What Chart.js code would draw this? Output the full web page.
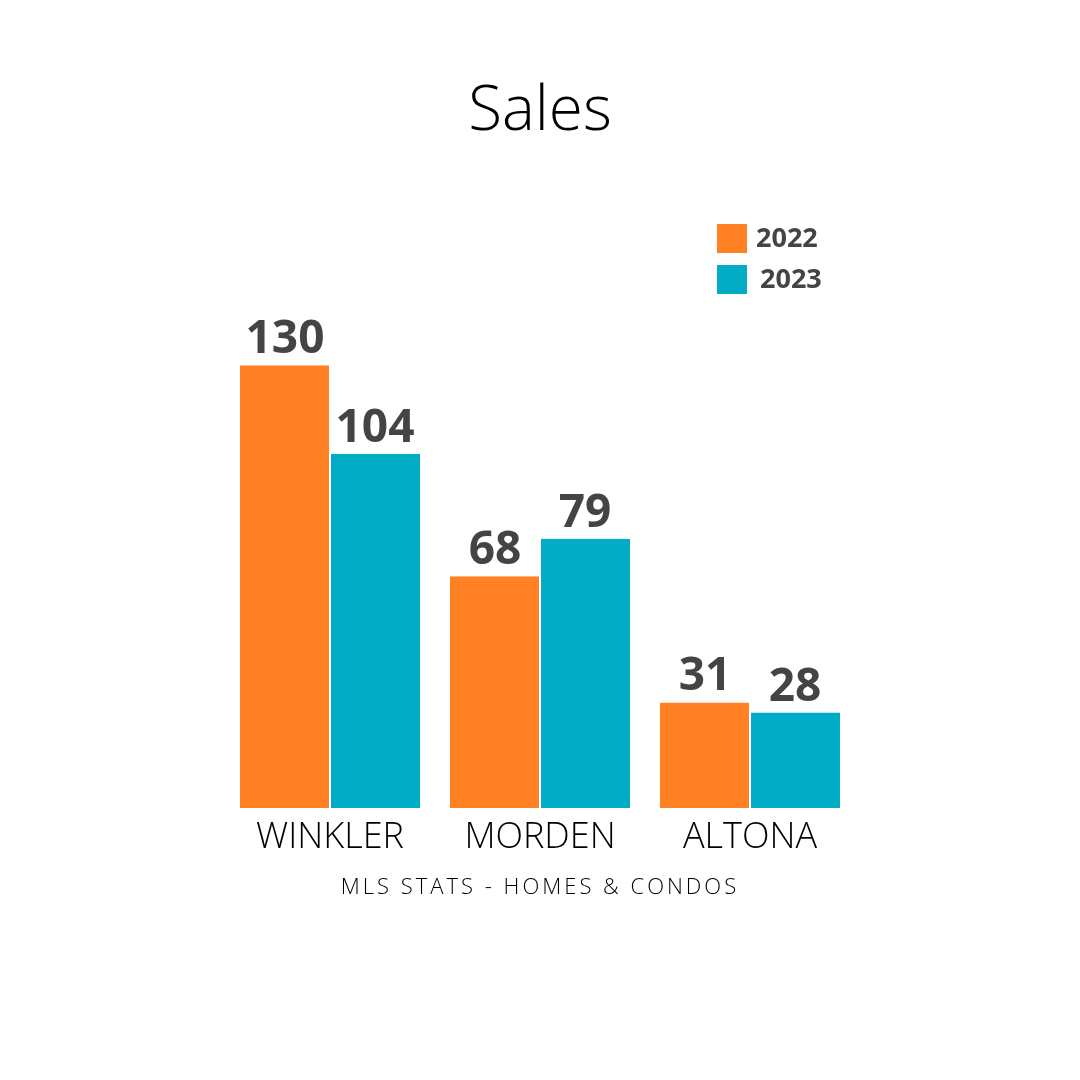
<!DOCTYPE html>
<html><head><meta charset="utf-8">
<script src="https://cdn.jsdelivr.net/npm/chart.js@4"></script>
<style>html,body{margin:0;background:#fff}#w{width:1080px;height:1080px}</style>
</head><body><div id="w"><canvas id="c" width="1080" height="1080"></canvas></div>
<script>
const categories = ["WINKLER","MORDEN","ALTONA"];
const seriesNames = ["2022","2023"];
const sales2022 = [130,68,31];
const sales2023 = [104,79,28];
const colors = ["#FF8124","#00ACC6"];

const deco = {
  id:'deco',
  afterDatasetsDraw(chart){
    const ctx=chart.ctx, x=chart.scales.x;
    ctx.save();
    ctx.textAlign='center';
    ctx.fillStyle='#000';
    ctx.font='300 62px "Open Sans", Lato, sans-serif';
    ctx.textBaseline='middle';
    ctx.fillText('Sales',540,112);
    ctx.font='300 36px "Open Sans", Lato, sans-serif';
    categories.forEach((c,i)=>ctx.fillText(c,x.getPixelForValue(i),838));
    ctx.font='300 22px "Open Sans", Lato, sans-serif';
    ctx.letterSpacing='3px';
    ctx.fillText('MLS STATS - HOMES & CONDOS',540,888);
    ctx.letterSpacing='0px';
    // values
    ctx.fillStyle='#444';
    ctx.font='bold 46px "Open Sans", Lato, sans-serif';
    ctx.textBaseline='alphabetic';
    chart.data.datasets.forEach((ds,di)=>{
      chart.getDatasetMeta(di).data.forEach((b,i)=>ctx.fillText(ds.data[i],b.x,b.y-12));
    });
    // legend
    ctx.textAlign='left';ctx.textBaseline='middle';
    ctx.font='bold 27px "Open Sans", Lato, sans-serif';
    seriesNames.forEach((n,i)=>{
      ctx.fillStyle=colors[i];
      ctx.fillRect(717,224+i*41,30,29);
      ctx.fillStyle='#444';
      ctx.fillText(n,756+i*4,239+i*41);
    });
    ctx.restore();
  }
};

new Chart(document.getElementById('c'),{
  type:'bar',
  data:{labels:categories,datasets:[
    {label:seriesNames[0],data:sales2022,backgroundColor:colors[0],borderColor:'#fff',borderWidth:{right:1},borderSkipped:false},
    {label:seriesNames[1],data:sales2023,backgroundColor:colors[1],borderColor:'#fff',borderWidth:{left:1},borderSkipped:false}
  ]},
  options:{
    responsive:false,animation:false,
    layout:{padding:{left:225,right:225,top:297,bottom:272}},
    plugins:{legend:{display:false},tooltip:{enabled:false}},
    datasets:{bar:{categoryPercentage:180/210,barPercentage:1}},
    scales:{
      x:{display:false},
      y:{display:false,min:0,max:150}
    }
  },
  plugins:[deco]
});
</script></body></html>
